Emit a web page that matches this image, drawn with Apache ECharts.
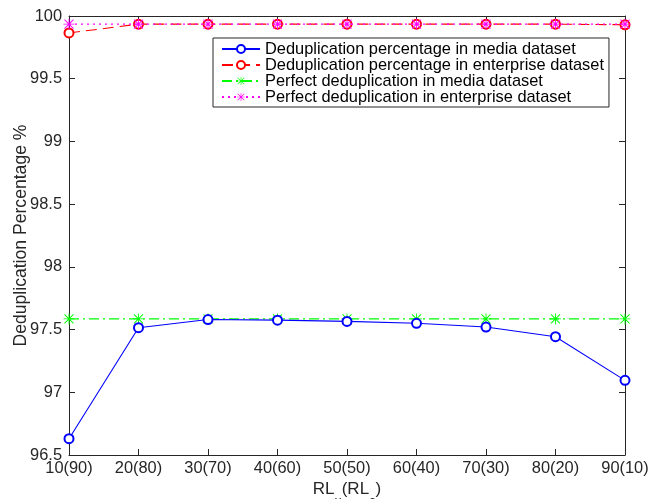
<!DOCTYPE html>
<html>
<head>
<meta charset="utf-8">
<script src="https://cdn.jsdelivr.net/npm/echarts@6/dist/echarts.min.js"></script>
<style>
html,body{margin:0;padding:0;background:#fff;}
#chart{width:660px;height:499px;}
</style>
</head>
<body>
<div id="chart"></div>
<script>
var categories = ['10(90)','20(80)','30(70)','40(60)','50(50)','60(40)','70(30)','80(20)','90(10)'];
var mediaDedup = [96.63, 97.515, 97.58, 97.575, 97.565, 97.55, 97.52, 97.443, 97.095];
var enterpriseDedup = [99.865, 99.935, 99.935, 99.935, 99.935, 99.935, 99.935, 99.935, 99.93];
var perfectMedia = [97.585, 97.585, 97.585, 97.585, 97.585, 97.585, 97.585, 97.585, 97.585];
var perfectEnterprise = [99.935, 99.935, 99.935, 99.935, 99.935, 99.935, 99.935, 99.935, 99.935];
var seriesNames = ['Deduplication percentage in media dataset','Deduplication percentage in enterprise dataset','Perfect deduplication in media dataset','Perfect deduplication in enterprise dataset'];

var star = 'path://M0,4.6L10,4.6L10,5.4L0,5.4Z M4.6,0L5.4,0L5.4,10L4.6,10Z M1.2,0.6L9.4,8.8L8.8,9.4L0.6,1.2Z M8.8,0.6L9.4,1.2L1.2,9.4L0.6,8.8Z';
var axisColor = '#262626';
var font = 'Liberation Sans, Arial, sans-serif';

var chart = echarts.init(document.getElementById('chart'));
chart.setOption({
  animation: false,
  backgroundColor: '#fff',
  grid: {left: 69, right: 35, top: 16, bottom: 44, containLabel: false, outerBoundsMode: 'none'},
  legend: {
    orient: 'vertical',
    left: 213, top: 38,
    padding: [3, 5, 2, 8],
    itemGap: 0,
    itemWidth: 38, itemHeight: 10,
    backgroundColor: '#fff',
    borderColor: axisColor, borderWidth: 1,
    textStyle: {fontFamily: font, fontSize: 16.4, lineHeight: 15.8, color: '#000'},
    data: seriesNames.map(function(n){return {name: n};})
  },
  xAxis: [{
    type: 'category', data: categories, boundaryGap: false,
    axisLine: {lineStyle: {color: axisColor}},
    axisTick: {inside: true, length: 6, lineStyle: {color: axisColor}},
    axisLabel: {fontFamily: font, fontSize: 16.4, color: axisColor, margin: 5, showMaxLabel: true, showMinLabel: true, interval: 0},
    name: '{n|RL}{s|u}{n|(RL}{s|c}{n|)}',
    nameLocation: 'middle', nameGap: 25, nameMoveOverlap: false,
    nameTextStyle: {
      rich: {
        n: {fontFamily: font, fontSize: 17, color: axisColor, verticalAlign: 'bottom', lineHeight: 18},
        s: {fontFamily: font, fontSize: 13, color: axisColor, verticalAlign: 'bottom', lineHeight: 18, padding: [0,0,-10,0]}
      }
    }
  },{
    type: 'category', data: categories, boundaryGap: false, position: 'top',
    axisLine: {lineStyle: {color: axisColor}},
    axisTick: {inside: true, length: 6, lineStyle: {color: axisColor}},
    axisLabel: {show: false}
  }],
  yAxis: [{
    type: 'value', min: 96.5, max: 100, interval: 0.5,
    axisLine: {show: true, lineStyle: {color: axisColor}},
    axisTick: {show: true, inside: true, length: 6, lineStyle: {color: axisColor}},
    splitLine: {show: false},
    axisLabel: {fontFamily: font, fontSize: 16.4, color: axisColor, margin: 7},
    name: 'Deduplication Percentage %',
    nameLocation: 'middle', nameGap: 39, nameMoveOverlap: false,
    nameTextStyle: {fontFamily: font, fontSize: 17.6, color: axisColor}
  },{
    type: 'value', min: 96.5, max: 100, interval: 0.5, position: 'right',
    axisLine: {show: true, lineStyle: {color: axisColor}},
    axisTick: {show: true, inside: true, length: 6, lineStyle: {color: axisColor}},
    splitLine: {show: false},
    axisLabel: {show: false}
  }],
  series: [{
    name: seriesNames[0], type: 'line', data: mediaDedup,
    symbol: 'emptyCircle', symbolSize: 9,
    lineStyle: {color: '#0000ff', width: 1.1},
    itemStyle: {color: '#0000ff', borderColor: '#0000ff', borderWidth: 1},
    z: 3
  },{
    name: seriesNames[1], type: 'line', data: enterpriseDedup,
    symbol: 'emptyCircle', symbolSize: 9,
    lineStyle: {color: '#ff0000', width: 1.1, type: [11, 6]},
    itemStyle: {color: '#ff0000', borderColor: '#ff0000', borderWidth: 1},
    z: 3
  },{
    name: seriesNames[2], type: 'line', data: perfectMedia,
    symbol: star, symbolSize: 11,
    lineStyle: {color: '#00ff00', width: 1.1, type: [10, 4, 2, 4]},
    itemStyle: {color: '#00ff00'},
    z: 2
  },{
    name: seriesNames[3], type: 'line', data: perfectEnterprise,
    symbol: star, symbolSize: 11,
    lineStyle: {color: '#ff00ff', width: 1.1, type: [2, 4]},
    itemStyle: {color: '#ff00ff'},
    z: 4
  }]
});
</script>
</body>
</html>
